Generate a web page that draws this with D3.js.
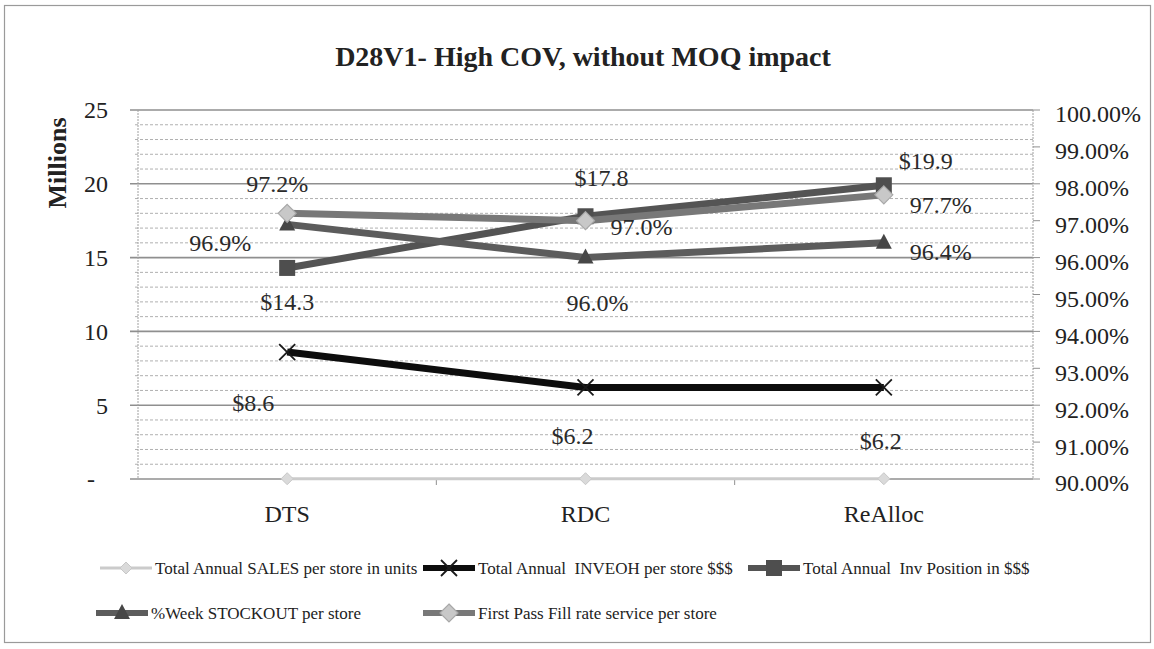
<!DOCTYPE html>
<html>
<head>
<meta charset="utf-8">
<script src="https://cdn.jsdelivr.net/npm/d3@7"></script>
<style>
  html, body { margin: 0; padding: 0; background: #fff; }
  svg { display: block; }
</style>
</head>
<body>
<svg id="chart" width="1154" height="649"></svg>
<script>
// Scenario categories
const categories = ["DTS", "RDC", "ReAlloc"];

// Primary axis series (millions)
const salesUnits = [0.02, 0.02, 0.02];
const invEoh = [8.6, 6.2, 6.2];
const invPosition = [14.3, 17.8, 19.9];

// Secondary axis series (share)
const weekStockout = [0.969, 0.960, 0.964];
const fillRate = [0.972, 0.970, 0.977];

// Axis ticks
const leftTicks = [0, 5, 10, 15, 20, 25];
const leftTickLabels = ["-", "5", "10", "15", "20", "25"];
const leftMinorTicks = d3.range(0, 26, 1);
const rightTicks = [0.90, 0.91, 0.92, 0.93, 0.94, 0.95, 0.96, 0.97, 0.98, 0.99, 1.00];
const rightTickLabels = ["90.00%", "91.00%", "92.00%", "93.00%", "94.00%", "95.00%", "96.00%", "97.00%", "98.00%", "99.00%", "100.00%"];

const titleText = "D28V1- High COV, without MOQ impact";
const yTitle = "Millions";

const FONT = "'Liberation Serif'";
const svg = d3.select("#chart");
const plot = { left: 138, right: 1033, top: 110, bottom: 479 };

// outer frame
svg.append("rect").attr("x", 4.5).attr("y", 5.5).attr("width", 1146).attr("height", 637)
  .attr("fill", "#fff").attr("stroke", "#9a9a9a").attr("stroke-width", 1.2);

const x = d3.scaleBand().domain(categories).range([plot.left, plot.right]);
const cx = c => x(c) + x.bandwidth() / 2;
const yL = d3.scaleLinear().domain([0, 25]).range([plot.bottom, plot.top]);
const yR = d3.scaleLinear().domain([0.90, 1.00]).range([plot.bottom, plot.top]);

// minor gridlines every 1M (dashed)
svg.append("g").selectAll("line").data(leftMinorTicks.filter(v => v % 5 !== 0)).join("line")
  .attr("x1", plot.left - 3).attr("x2", plot.right)
  .attr("y1", d => yL(d)).attr("y2", d => yL(d))
  .attr("stroke", "#b0b0b0").attr("stroke-width", 1).attr("stroke-dasharray", "3,2");

// major gridlines every 5M
svg.append("g").selectAll("line").data(leftTicks).join("line")
  .attr("x1", plot.left - 8).attr("x2", plot.right)
  .attr("y1", d => yL(d)).attr("y2", d => yL(d))
  .attr("stroke", "#8f8f8f").attr("stroke-width", 1.6);

// left axis line
svg.append("line").attr("x1", plot.left).attr("x2", plot.left)
  .attr("y1", plot.top).attr("y2", plot.bottom)
  .attr("stroke", "#a0a0a0").attr("stroke-width", 1).attr("stroke-dasharray", "2,1");

// right axis line and ticks
svg.append("line").attr("x1", plot.right).attr("x2", plot.right)
  .attr("y1", plot.top).attr("y2", plot.bottom)
  .attr("stroke", "#a0a0a0").attr("stroke-width", 1).attr("stroke-dasharray", "2,1");
svg.append("g").selectAll("line").data(rightTicks).join("line")
  .attr("x1", plot.right).attr("x2", plot.right + 7)
  .attr("y1", d => yR(d)).attr("y2", d => yR(d))
  .attr("stroke", "#909090").attr("stroke-width", 1);

// category tick marks between bands
const bounds = categories.slice(1).map(c => x(c));
svg.append("g").selectAll("line").data(bounds).join("line")
  .attr("x1", d => d).attr("x2", d => d)
  .attr("y1", plot.bottom).attr("y2", plot.bottom + 6)
  .attr("stroke", "#909090").attr("stroke-width", 1);

const txt = sel => sel.attr("font-family", FONT).attr("fill", "#222");

// left tick labels
svg.append("g").selectAll("text").data(leftTicks).join("text")
  .call(txt)
  .attr("x", (d, i) => i === 0 ? 95 : 108)
  .attr("y", d => yL(d)).attr("dy", "0.35em")
  .attr("text-anchor", "end").attr("font-size", 24)
  .text((d, i) => leftTickLabels[i]);

// right tick labels
svg.append("g").selectAll("text").data(rightTicks).join("text")
  .call(txt)
  .attr("x", 1055).attr("y", d => yR(d) + 4).attr("dy", "0.35em")
  .attr("text-anchor", "start").attr("font-size", 24)
  .text((d, i) => rightTickLabels[i]);

// category labels
svg.append("g").selectAll("text").data(categories).join("text")
  .call(txt)
  .attr("x", d => cx(d)).attr("y", 522)
  .attr("text-anchor", "middle").attr("font-size", 24)
  .text(d => d);

// title
svg.append("text").call(txt).attr("x", 583).attr("y", 66).attr("text-anchor", "middle")
  .attr("font-size", 28).attr("font-weight", "bold").text(titleText);

// y-axis title
svg.append("text").call(txt).attr("transform", "translate(66,163) rotate(-90)")
  .attr("text-anchor", "middle").attr("font-size", 26).attr("font-weight", "bold")
  .text(yTitle);

// marker painters
const markers = {
  diamondLight: (g, px, py) => g.append("path")
    .attr("d", `M${px},${py - 6}L${px + 6},${py}L${px},${py + 6}L${px - 6},${py}Z`)
    .attr("fill", "#dadada").attr("stroke", "#c8c8c8").attr("stroke-width", 1),
  cross: (g, px, py) => g.append("path")
    .attr("d", `M${px - 8},${py - 8}L${px + 8},${py + 8}M${px - 8},${py + 8}L${px + 8},${py - 8}`)
    .attr("stroke", "#1a1a1a").attr("stroke-width", 1.8).attr("fill", "none"),
  square: (g, px, py) => g.append("rect")
    .attr("x", px - 8).attr("y", py - 8).attr("width", 16).attr("height", 16)
    .attr("fill", "#4e4e4e"),
  triangle: (g, px, py) => g.append("path")
    .attr("d", `M${px},${py - 9}L${px + 8},${py + 6}L${px - 8},${py + 6}Z`)
    .attr("fill", "#474747"),
  diamondFill: (g, px, py) => g.append("path")
    .attr("d", `M${px},${py - 9}L${px + 9},${py}L${px},${py + 9}L${px - 9},${py}Z`)
    .attr("fill", "#c8c8c8").attr("stroke", "#a8a8a8").attr("stroke-width", 1.2)
};

const money = d => "$" + d3.format(".1f")(d);
const pct = d => d3.format(".1%")(d);

const series = [
  { name: "Total Annual SALES per store in units", values: salesUnits, y: yL, color: "#cbcbcb", width: 3, marker: "diamondLight", label: null },
  { name: "Total Annual  INVEOH per store $$$", values: invEoh, y: yL, color: "#0d0d0d", width: 7, marker: "cross", label: money,
    offsets: [[-34, 51], [-13, 48], [-3, 53]] },
  { name: "Total Annual  Inv Position in $$$", values: invPosition, y: yL, color: "#545454", width: 7, marker: "square", label: money,
    offsets: [[0, 34], [16, -39], [42, -25]] },
  { name: "%Week STOCKOUT per store", values: weekStockout, y: yR, color: "#5c5c5c", width: 7, marker: "triangle", label: pct,
    offsets: [[-67, 18], [12, 45], [57, 9]] },
  { name: "First Pass Fill rate service per store", values: fillRate, y: yR, color: "#787878", width: 7, marker: "diamondFill", label: pct,
    offsets: [[-10, -30], [56, 6], [57, 10]] }
];

const lineLayer = svg.append("g");
series.forEach(s => {
  const pts = categories.map((c, i) => [cx(c), s.y(s.values[i])]);
  lineLayer.append("path").datum(pts)
    .attr("d", d3.line())
    .attr("fill", "none").attr("stroke", s.color).attr("stroke-width", s.width)
    .attr("stroke-linejoin", "round");
  const mg = lineLayer.append("g");
  pts.forEach(p => markers[s.marker](mg, p[0], p[1]));
});

// data labels
const labelLayer = svg.append("g");
series.filter(s => s.label).forEach(s => {
  categories.forEach((c, i) => {
    const px = cx(c), py = s.y(s.values[i]);
    const [dx, dy] = s.offsets[i];
    labelLayer.append("text").call(txt)
      .attr("x", px + dx).attr("y", py + dy).attr("dy", "0.35em")
      .attr("text-anchor", "middle").attr("font-size", 24).attr("fill", "#2a2a2a")
      .text(s.label(s.values[i]));
  });
});

// legend
const legendItems = [
  { s: series[0], x: 100, y: 568 },
  { s: series[1], x: 423, y: 568 },
  { s: series[2], x: 748, y: 568 },
  { s: series[3], x: 96, y: 613 },
  { s: series[4], x: 423, y: 613 }
];
const lg = svg.append("g");
legendItems.forEach(it => {
  const g = lg.append("g");
  const len = 52;
  g.append("line").attr("x1", it.x).attr("x2", it.x + len)
    .attr("y1", it.y).attr("y2", it.y)
    .attr("stroke", it.s.color).attr("stroke-width", Math.min(it.s.width, 6));
  markers[it.s.marker](g, it.x + len / 2, it.y);
  g.append("text").call(txt).attr("x", it.x + len + 3).attr("y", it.y).attr("dy", "0.35em")
    .attr("font-size", 17).style("white-space", "pre")
    .text(it.s.name);
});
</script>
</body>
</html>
